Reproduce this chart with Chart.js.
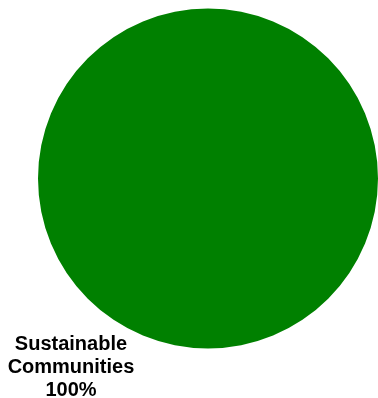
<!DOCTYPE html>
<html>
<head>
<meta charset="utf-8">
<script src="https://cdn.jsdelivr.net/npm/chart.js@4"></script>
<style>
  body { margin: 0; background: #fff; }
  canvas { display: block; }
</style>
</head>
<body>
<canvas id="pie" width="378" height="398"></canvas>
<script>
const labels = ['Sustainable Communities'];
const values = [100];
const colors = ['#008000'];

// label for the slice, drawn outside at the lower left like the source chart
const sliceLabels = {
  id: 'sliceLabels',
  afterDatasetsDraw(chart) {
    const c = chart.ctx;
    const meta = chart.getDatasetMeta(0);
    const total = values.reduce((a, b) => a + b, 0);
    meta.data.forEach((arc, i) => {
      const r = arc.outerRadius;
      const x = arc.x - 0.806 * r;
      const y = arc.y + 1.01 * r;
      const pct = Math.round(values[i] / total * 100) + '%';
      const lines = labels[i].split(' ').concat([pct]);
      c.save();
      c.fillStyle = '#000';
      c.font = 'bold 20px "Liberation Sans", Arial, sans-serif';
      c.textAlign = 'center';
      c.textBaseline = 'alphabetic';
      lines.forEach((t, k) => c.fillText(t, x, y + k * 23));
      c.restore();
    });
  }
};

new Chart(document.getElementById('pie'), {
  type: 'pie',
  data: {
    labels: labels,
    datasets: [{
      data: values,
      backgroundColor: colors,
      borderWidth: 0
    }]
  },
  options: {
    responsive: false,
    animation: false,
    layout: { padding: { left: 38, right: 0, top: 8, bottom: 49 } },
    plugins: {
      legend: { display: false },
      tooltip: { enabled: false }
    }
  },
  plugins: [sliceLabels]
});
</script>
</body>
</html>
